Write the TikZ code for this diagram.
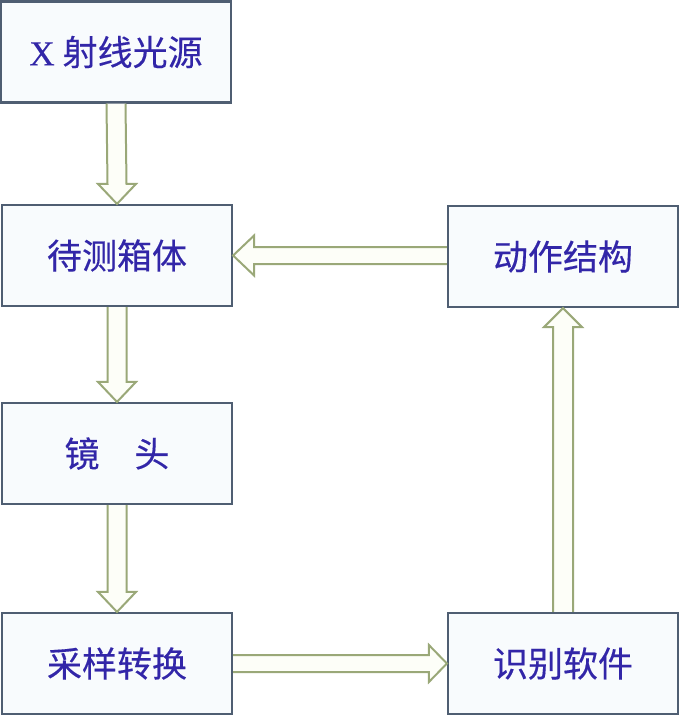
\documentclass[tikz,border=0pt]{standalone}
\usepackage{fontspec}
\setmainfont{Liberation Serif}
\newfontfamily\cjk[FakeBold=0.3]{Noto Sans CJK SC}
\newfontfamily\xfont[FakeBold=0.3]{Liberation Serif}
\usetikzlibrary{calc}
\definecolor{boxline}{HTML}{4F5E72}
\definecolor{boxfill}{HTML}{F8FBFD}
\definecolor{txt}{HTML}{3226A8}
\definecolor{arrline}{HTML}{9AA878}
\definecolor{arrfill}{HTML}{FDFEF8}
\tikzset{
  box/.style={draw=boxline, line width=2.2pt, fill=boxfill, minimum width=230pt, minimum height=101pt, inner sep=0pt, text=txt, font=\cjk\fontsize{35}{35}\selectfont},
  blockarr/.style={draw=arrline, line width=2pt, fill=arrfill, line join=miter}
}
\begin{document}
\begin{tikzpicture}[x=1pt,y=-1pt]
\useasboundingbox (0,0) rectangle (680,716);
\node[box] (b1) at (116,52) {{\xfont X}\hspace{8pt}射线光源};
\node[box] (b2) at (117,255.5) {待测箱体};
\node[box] (b3) at (117,453.5) {镜　头};
\node[box] (b4) at (117,663.5) {采样转换};
\node[box] (r1) at (563,256.5) {动作结构};
\node[box] (r2) at (563,663.5) {识别软件};
% down arrows
\foreach \s/\t in {b1/b2, b2/b3, b3/b4}{
  \draw[blockarr] ($(\s.south)+(-9.5,0)$) -- ($(\t.north)+(-9.5,-20)$) -- ($(\t.north)+(-19,-20)$) -- (\t.north) -- ($(\t.north)+(19,-20)$) -- ($(\t.north)+(9.5,-20)$) -- ($(\s.south)+(9.5,0)$);
}
% left arrow r1 -> b2
\coordinate (ls) at (r1.west |- b2.east);
\draw[blockarr] ($(ls)+(0,-8.5)$) -- ($(b2.east)+(21,-8.5)$) -- ($(b2.east)+(21,-20)$) -- (b2.east) -- ($(b2.east)+(21,20)$) -- ($(b2.east)+(21,8.5)$) -- ($(ls)+(0,8.5)$);
% up arrow r2 -> r1
\draw[blockarr] ($(r2.north)+(-10,0)$) -- ($(r1.south)+(-10,19)$) -- ($(r1.south)+(-19,19)$) -- (r1.south) -- ($(r1.south)+(19,19)$) -- ($(r1.south)+(10,19)$) -- ($(r2.north)+(10,0)$);
% right arrow b4 -> r2
\draw[blockarr] ($(b4.east)+(0,-8.5)$) -- ($(r2.west)+(-18,-8.5)$) -- ($(r2.west)+(-18,-18.5)$) -- (r2.west) -- ($(r2.west)+(-18,18.5)$) -- ($(r2.west)+(-18,8.5)$) -- ($(b4.east)+(0,8.5)$);
\end{tikzpicture}
\end{document}
